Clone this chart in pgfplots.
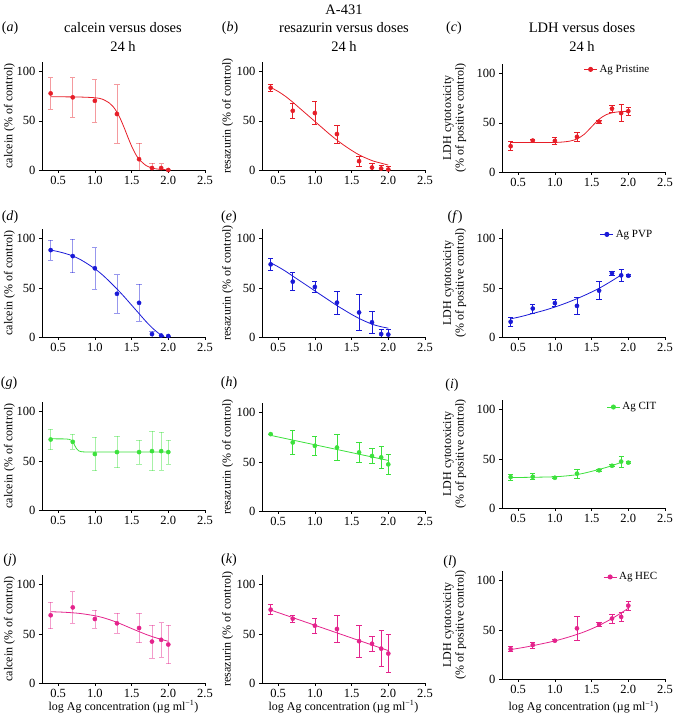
\documentclass[border=0pt]{standalone}
\usepackage{fontspec}
\setmainfont{Liberation Serif}
\usepackage{pgfplots}
\pgfplotsset{compat=1.18}

\definecolor{cRed}{RGB}{230,30,40}
\definecolor{cBlue}{RGB}{25,25,215}
\definecolor{cGreen}{RGB}{60,225,60}
\definecolor{cMag}{RGB}{228,35,140}

\pgfplotsset{
  panel/.style={
    scale only axis, width=163pt, height=108pt,
    anchor=south west,
    xmin=0.28, xmax=2.5, ymin=0, ymax=110,
    axis lines=left,
    axis line style={-, line width=0.7pt},
    xtick={0.5,1,1.5,2,2.5}, ytick={0,50,100},
    tick align=outside, major tick length=3pt,
    tick style={line width=0.7pt, black},
    xticklabel style={/pgf/number format/fixed, /pgf/number format/fixed zerofill, /pgf/number format/precision=1},
    /pgf/number format/assume math mode=true,
    tick label style={font=\fontsize{12.5}{14}\selectfont},
    label style={font=\fontsize{12}{12.5}\selectfont},
    ylabel style={at={(axis description cs:-0.2,0.5)}, anchor=center},
    xlabel style={at={(axis description cs:0.5,-0.22)}, anchor=center},
    legend style={draw=none, fill=none, font=\fontsize{11}{12}\selectfont, anchor=west, inner sep=0pt},
    legend image code/.code={\draw[mark repeat=2,mark phase=2,##1] plot coordinates {(0pt,0pt) (6.5pt,0pt) (13pt,0pt)};},
  },
  ldh/.style={ylabel={LDH cytotoxicity\\(\% of positive control)}, ylabel style={align=center, at={(axis description cs:-0.29,0.5)}}},
  fit/.style={#1, line width=0.8pt, no markers, forget plot},
  dat/.style={#1, only marks, mark=*, mark size=2.1pt, forget plot,
    error bars/y dir=both, error bars/y explicit,
    error bars/error bar style={line width=0.7pt},
    error bars/error mark options={rotate=90, mark size=2.6pt, line width=0.7pt}},
  faint/.style={error bars/error bar style={line width=0.7pt, draw opacity=0.45},
    error bars/error mark options={rotate=90, mark size=2.6pt, line width=0.7pt, draw opacity=0.45}},
  leg/.style={#1, mark=*, mark size=2.1pt, line width=0.8pt},
}

\begin{document}
\begin{tikzpicture}[x=1pt,y=1pt]
\useasboundingbox (0,0) rectangle (676,715);

% ---------- row 1: Ag Pristine ----------
\begin{axis}[panel, at={(42pt,545pt)}, ylabel={calcein (\% of control)}]
\addplot[fit=cRed, smooth] coordinates {(0.4,74.5)(0.6,74.5)(0.8,74.3)(1.0,73.6)(1.1,72.2)(1.2,68.1)(1.25,64.4)(1.3,59)(1.35,51.7)(1.4,42.9)(1.45,33.4)(1.5,24.4)(1.55,16.8)(1.6,11.1)(1.7,4.4)(1.8,1.6)(1.9,0.6)(2.0,0.2)};
\addplot[dat=cRed, faint] table[x=x, y=y, y error=e, row sep=\\] {x y e\\ 0.398 78 16\\ 0.699 74 20\\ 1.0 70.5 21.5\\ 1.301 57 30\\ 1.602 11 16\\ 1.778 2 5\\ 1.903 2 4.5\\ 2.0 0 0\\};
\end{axis}

\begin{axis}[panel, at={(262pt,545pt)}, ylabel={resazurin (\% of control)}, ylabel style={at={(axis description cs:-0.21,0.5)}}]
\addplot[fit=cRed, smooth] coordinates {(0.4,84)(0.5,80)(0.6,75)(0.7,69)(0.8,62.5)(0.9,56)(1.0,49.5)(1.1,43)(1.2,36.5)(1.3,30.5)(1.4,25)(1.5,20)(1.6,15.5)(1.7,12)(1.8,9)(1.9,7)(2.0,5)};
\addplot[dat=cRed] table[x=x, y=y, y error=e, row sep=\\] {x y e\\ 0.398 83.7 4\\ 0.699 60.3 7.5\\ 1.0 58 12\\ 1.301 36.6 9\\ 1.602 9 5\\ 1.778 2.5 4\\ 1.903 1.5 3\\ 2.0 0.5 3\\};
\end{axis}

\begin{axis}[panel, ldh, at={(502pt,543pt)}, legend style={at={(0.50,0.95)}}]
\addlegendimage{leg=cRed}
\addlegendentry{Ag Pristine}
\addplot[fit=cRed, smooth] coordinates {(0.4,30)(0.8,30)(1.0,30.1)(1.1,30.5)(1.2,31.4)(1.3,33.6)(1.4,38.4)(1.5,46)(1.6,53.6)(1.7,58.4)(1.8,60.6)(1.9,61.5)(2.0,61.8)};
\addplot[dat=cRed] table[x=x, y=y, y error=e, row sep=\\] {x y e\\ 0.398 26.3 4.5\\ 0.699 32 1.5\\ 1.0 31.7 4\\ 1.301 35.8 5\\ 1.602 51.2 1.5\\ 1.778 64.5 3.7\\ 1.903 60 8.7\\ 2.0 62 4\\};
\end{axis}

% ---------- row 2: Ag PVP ----------
\begin{axis}[panel, at={(42pt,378pt)}, ylabel={calcein (\% of control)}]
\addplot[fit=cBlue, smooth] coordinates {(0.4,88.5)(0.5,87)(0.6,85)(0.7,82.5)(0.8,79)(0.9,74.5)(1.0,69.5)(1.1,63.5)(1.2,56.5)(1.3,49)(1.4,41)(1.5,32.5)(1.6,24)(1.7,15.5)(1.8,8)(1.9,2)(1.95,0)};
\addplot[dat=cBlue, faint] table[x=x, y=y, y error=e, row sep=\\] {x y e\\ 0.398 88.5 10.3\\ 0.699 82.4 17\\ 1.0 70 21\\ 1.301 44 19.5\\ 1.602 34.8 19\\ 1.778 3 3\\ 1.903 1.5 0\\ 2.0 1 0\\};
\end{axis}

\begin{axis}[panel, at={(262pt,378pt)}, ylabel={resazurin (\% of control)}, ylabel style={at={(axis description cs:-0.21,0.5)}}]
\addplot[fit=cBlue, smooth] coordinates {(0.4,75.5)(0.5,71.5)(0.6,67)(0.7,62)(0.8,57)(0.9,52)(1.0,47)(1.1,42)(1.2,37)(1.3,32)(1.4,27.5)(1.5,23)(1.6,19)(1.7,15.5)(1.8,12.5)(1.9,10.5)(2.0,9)};
\addplot[dat=cBlue] table[x=x, y=y, y error=e, row sep=\\] {x y e\\ 0.398 74 6\\ 0.699 56.4 9\\ 1.0 51 5.5\\ 1.301 35 11.5\\ 1.602 25 18\\ 1.778 15 11.5\\ 1.903 3 4.5\\ 2.0 2.5 5\\};
\end{axis}

\begin{axis}[panel, ldh, at={(502pt,378pt)}, legend style={at={(0.60,0.95)}}]
\addlegendimage{leg=cBlue}
\addlegendentry{Ag PVP}
\addplot[fit=cBlue, smooth] coordinates {(0.4,18.5)(0.55,21)(0.7,24)(0.85,27)(1.0,30.5)(1.15,34.5)(1.3,39)(1.45,44)(1.6,49.5)(1.75,56)(1.9,63)};
\addplot[dat=cBlue] table[x=x, y=y, y error=e, row sep=\\] {x y e\\ 0.398 15.5 4.7\\ 0.699 29 4.7\\ 1.0 34.5 3.7\\ 1.301 31.7 8.3\\ 1.602 47.2 9\\ 1.778 65 2.2\\ 1.903 62.8 6\\ 2.0 62.4 1\\};
\end{axis}

% ---------- row 3: Ag CIT ----------
\begin{axis}[panel, at={(42pt,205pt)}, ylabel={calcein (\% of control)}]
\addplot[fit=cGreen] coordinates {(0.4,72.5)(0.6,72.4)(0.65,72)(0.68,71)(0.7,69.5)(0.72,66.5)(0.75,62.5)(0.78,60.2)(0.82,59.3)(0.9,59)(2.0,59)};
\addplot[dat=cGreen, faint] table[x=x, y=y, y error=e, row sep=\\] {x y e\\ 0.398 71.8 10.3\\ 0.699 69.4 7.7\\ 1.0 57 17\\ 1.301 59 16\\ 1.602 59 12\\ 1.778 60 20\\ 1.903 60 19.5\\ 2.0 59 12\\};
\end{axis}

\begin{axis}[panel, at={(262pt,204pt)}, ylabel={resazurin (\% of control)}, ylabel style={at={(axis description cs:-0.21,0.5)}}]
\addplot[fit=cGreen] coordinates {(0.4,77)(2.0,51.5)};
\addplot[dat=cGreen] table[x=x, y=y, y error=e, row sep=\\] {x y e\\ 0.398 78.3 0\\ 0.699 69.8 12\\ 1.0 66.4 9.3\\ 1.301 64.7 13.4\\ 1.602 59.7 9.8\\ 1.778 56 7.3\\ 1.903 54.6 11.5\\ 2.0 47.5 9.8\\};
\end{axis}

\begin{axis}[panel, ldh, at={(502pt,207pt)}, legend style={at={(0.64,0.935)}}]
\addlegendimage{leg=cGreen}
\addlegendentry{Ag CIT}
\addplot[fit=cGreen, smooth] coordinates {(0.4,31)(0.7,31.3)(1.0,31.8)(1.2,33)(1.3,34)(1.4,35.5)(1.5,37.3)(1.6,39.3)(1.7,41.3)(1.8,43.7)(1.92,47)};
\addplot[dat=cGreen] table[x=x, y=y, y error=e, row sep=\\] {x y e\\ 0.398 31.5 3\\ 0.699 31.8 3\\ 1.0 30.8 1\\ 1.301 35 4.5\\ 1.602 38.4 1\\ 1.778 43 1\\ 1.903 47.3 5.5\\ 2.0 46.2 1\\};
\end{axis}

% ---------- row 4: Ag HEC ----------
\begin{axis}[panel, at={(42pt,32pt)}, ylabel={calcein (\% of control)}, xlabel={log Ag concentration (µg ml\textsuperscript{−1})}]
\addplot[fit=cMag, smooth] coordinates {(0.4,72.6)(0.6,72)(0.8,70.8)(1.0,68.5)(1.1,66.8)(1.2,64.5)(1.3,61.8)(1.4,58.7)(1.5,55.5)(1.6,52.4)(1.7,49.4)(1.8,46.8)(1.9,44.5)(2.0,42.5)};
\addplot[dat=cMag, faint] table[x=x, y=y, y error=e, row sep=\\] {x y e\\ 0.398 69 13.5\\ 0.699 77 16\\ 1.0 65.2 9.3\\ 1.301 60.8 10\\ 1.602 56 15\\ 1.778 42.2 17\\ 1.903 44 17.5\\ 2.0 39.2 19.5\\};
\end{axis}

\begin{axis}[panel, at={(262pt,32pt)}, ylabel={resazurin (\% of control)}, ylabel style={at={(axis description cs:-0.21,0.5)}}, xlabel={log Ag concentration (µg ml\textsuperscript{−1})}]
\addplot[fit=cMag] coordinates {(0.4,74.3)(2.0,33)};
\addplot[dat=cMag] table[x=x, y=y, y error=e, row sep=\\] {x y e\\ 0.398 74.7 5\\ 0.699 65.5 3.6\\ 1.0 58.4 7.6\\ 1.301 55 14\\ 1.602 42.6 16.3\\ 1.778 40 7.8\\ 1.903 35 18.5\\ 2.0 30 19.5\\};
\end{axis}

\begin{axis}[panel, ldh, at={(502pt,36pt)}, legend style={at={(0.62,0.945)}}, xlabel={log Ag concentration (µg ml\textsuperscript{−1})}, xlabel style={at={(axis description cs:0.5,-0.26)}}]
\addlegendimage{leg=cMag}
\addlegendentry{Ag HEC}
\addplot[fit=cMag, smooth] coordinates {(0.4,30)(0.6,32.5)(0.8,35.5)(1.0,38.8)(1.2,43)(1.4,48)(1.6,54.5)(1.8,62.5)(2.0,72)};
\addplot[dat=cMag] table[x=x, y=y, y error=e, row sep=\\] {x y e\\ 0.398 30.4 2.5\\ 0.699 34.6 3\\ 1.0 39 1\\ 1.301 51.6 12\\ 1.602 55.7 2.5\\ 1.778 61.6 4.5\\ 1.903 63.3 4.7\\ 2.0 74.7 4.7\\};
\end{axis}

% ---------- titles and panel letters ----------
\begin{scope}[every node/.style={font=\fontsize{14.5}{16}\selectfont, inner sep=0pt}]
\node at (344,705) {A-431};
\node at (123,687) {calcein versus doses};
\node at (123,669) {24 h};
\node at (344,687) {resazurin versus doses};
\node at (344,669) {24 h};
\node at (582,687) {LDH versus doses};
\node at (582,669) {24 h};
\end{scope}
\begin{scope}[every node/.style={font=\fontsize{14}{16}\selectfont, inner sep=0pt}]
\node at (10,687) {(\textit{a})};
\node at (230,687) {(\textit{b})};
\node at (454,687) {(\textit{c})};
\node at (10,498) {(\textit{d})};
\node at (229,498) {(\textit{e})};
\node at (455,498) {(\textit{f})};
\node at (9,332) {(\textit{g})};
\node at (229,332) {(\textit{h})};
\node at (452,330) {(\textit{i})};
\node at (10,155) {(\textit{j})};
\node at (229,155) {(\textit{k})};
\node at (450,153) {(\textit{l})};
\end{scope}
\end{tikzpicture}
\end{document}
